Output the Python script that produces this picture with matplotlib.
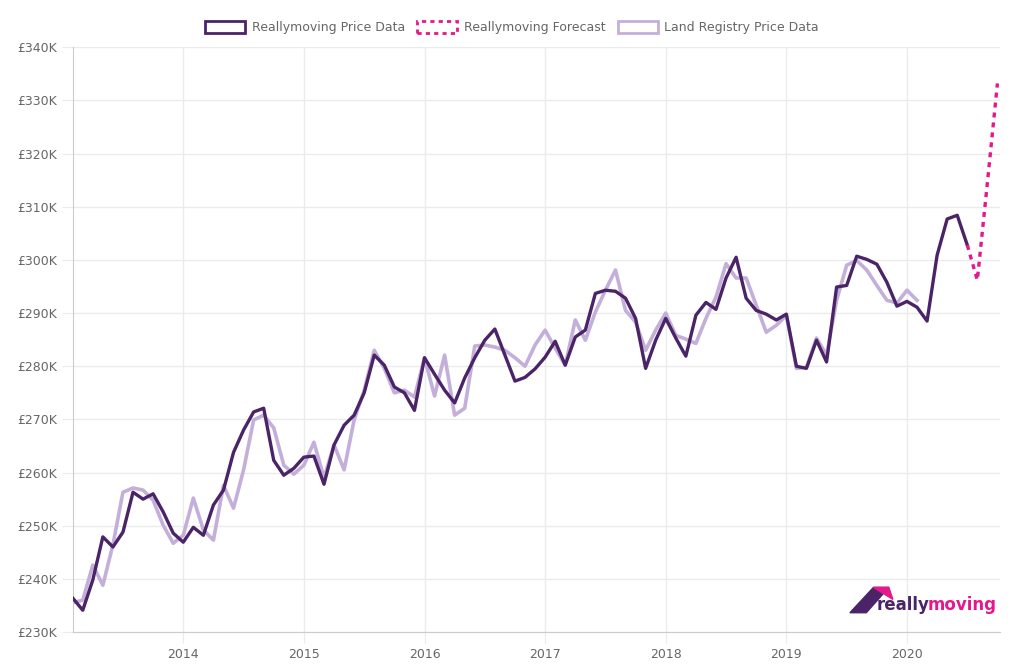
import matplotlib
matplotlib.use("Agg")
import matplotlib.pyplot as plt
from matplotlib.patches import Patch, Polygon

plt.rcParams.update({"font.family": "DejaVu Sans", "font.size": 9})

# months counted from Jan 2013 (= 0)
rm_months = list(range(1, 91))
rm_values = [236.4, 234.1, 239.8, 247.9, 246.0, 248.8, 256.3, 255.0, 256.0, 252.6,
             248.6, 246.9, 249.7, 248.2, 253.9, 256.7, 263.8, 268.0, 271.4, 272.1,
             262.3, 259.5, 260.8, 262.9, 263.1, 257.8, 265.2, 268.9, 270.8, 275.0,
             282.1, 280.2, 276.1, 275.0, 271.7, 281.6, 278.5, 275.5, 273.1, 277.8,
             281.6, 284.9, 287.0, 282.1, 277.2, 277.9, 279.5, 281.7, 284.7, 280.2,
             285.5, 286.8, 293.7, 294.3, 294.1, 292.8, 289.0, 279.6, 284.9, 289.0,
             285.3, 281.9, 289.6, 292.0, 290.7, 296.6, 300.5, 292.8, 290.5, 289.8,
             288.7, 289.8, 280.0, 279.6, 284.9, 280.8, 294.9, 295.2, 300.7, 300.1,
             299.2, 295.8, 291.3, 292.2, 291.1, 288.5, 300.9, 307.7, 308.4, 302.8]
fc_months = [90, 91, 92, 93]
fc_values = [302.8, 296.2, 314.5, 333.2]
lr_months = list(range(1, 86))
lr_values = [235.5, 236.0, 242.6, 238.8, 246.4, 256.3, 257.1, 256.7, 254.8, 250.1,
             246.7, 248.2, 255.2, 249.2, 247.3, 257.6, 253.3, 260.5, 269.9, 270.8,
             268.4, 261.4, 259.7, 261.4, 265.7, 259.0, 265.2, 260.5, 269.9, 275.5,
             283.0, 279.6, 275.0, 275.5, 274.2, 281.6, 274.4, 282.1, 270.8, 272.1,
             283.8, 284.0, 283.6, 283.0, 281.6, 280.0, 284.0, 286.8, 283.4, 280.2,
             288.7, 284.9, 290.2, 294.3, 298.1, 290.5, 288.3, 283.0, 286.8, 290.0,
             285.8, 285.1, 284.3, 289.0, 293.0, 299.3, 296.6, 296.6, 291.5, 286.4,
             287.7, 289.6, 279.6, 279.8, 285.3, 282.1, 292.4, 299.0, 299.9, 298.1,
             295.2, 292.4, 291.9, 294.3, 292.4]
year_labels = ["2014", "2015", "2016", "2017", "2018", "2019", "2020"]
y_ticks = list(range(230, 341, 10))

DARK = "#4b2468"
LIGHT = "#c3afd9"
PINK = "#e6168c"

fig = plt.figure(figsize=(10.24, 6.66), dpi=100)
ax = fig.add_axes([0.071, 0.051, 0.906, 0.878])

ax.plot(lr_months, lr_values, color=LIGHT, lw=2.6, zorder=2)
ax.plot(rm_months, rm_values, color=DARK, lw=2.4, zorder=3)
ax.plot(fc_months, fc_values, color=PINK, lw=2.4, ls=(0, (1.5, 1.5)), zorder=3)

ax.set_xlim(1, 93.3)
ax.set_ylim(230, 340)
ax.set_xticks([12 * (i + 1) for i in range(len(year_labels))])
ax.set_xticklabels(year_labels)
ax.set_yticks(y_ticks)
ax.set_yticklabels([f"£{v}K" for v in y_ticks])
ax.grid(True, color="#ebebeb", lw=1)
ax.set_axisbelow(True)
for s in ["top", "right"]:
    ax.spines[s].set_visible(False)
for s in ["left", "bottom"]:
    ax.spines[s].set_color("#cccccc")
ax.tick_params(colors="#666666", labelsize=9, length=8, color="#ebebeb")

handles = [Patch(facecolor="white", edgecolor=DARK, lw=2),
           Patch(facecolor="white", edgecolor=PINK, lw=2, ls=(0, (1.5, 1.5))),
           Patch(facecolor="white", edgecolor=LIGHT, lw=2)]
fig.legend(handles, ["Reallymoving Price Data", "Reallymoving Forecast",
                     "Land Registry Price Data"],
           loc="upper center", bbox_to_anchor=(0.5, 0.985), ncol=3, frameon=False,
           fontsize=9, handlelength=3.2, handleheight=1.1, columnspacing=1.0,
           handletextpad=0.5, labelcolor="#666666")

# logo
fig.patches.append(Polygon([[0.830, 0.080], [0.853, 0.118], [0.868, 0.118], [0.846, 0.080]],
                           closed=True, transform=fig.transFigure, color=DARK))
fig.patches.append(Polygon([[0.853, 0.118], [0.868, 0.118], [0.872, 0.100]],
                           closed=True, transform=fig.transFigure, color=PINK))
fig.text(0.856, 0.078, "really", color=DARK, fontsize=12, fontweight="bold", va="bottom")
fig.text(0.906, 0.078, "moving", color=PINK, fontsize=12, fontweight="bold", va="bottom")

fig.savefig("out.png", dpi=100)
